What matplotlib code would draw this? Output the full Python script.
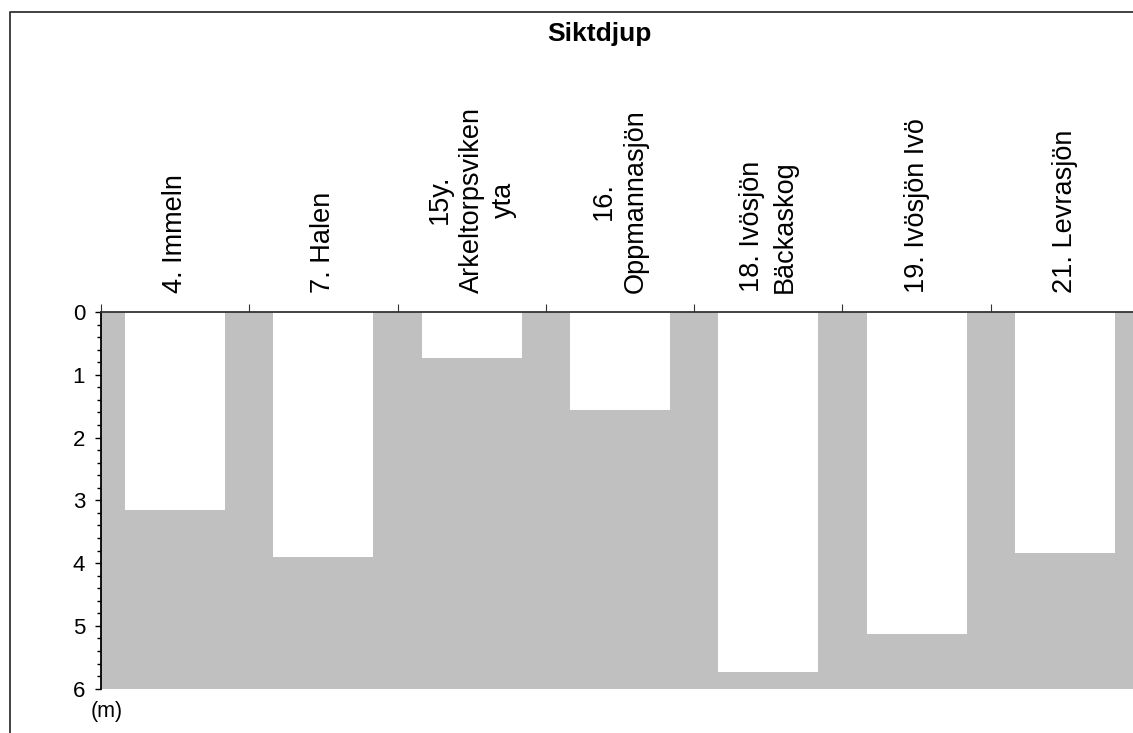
import matplotlib
matplotlib.use("Agg")
import matplotlib.pyplot as plt
from matplotlib.lines import Line2D
from matplotlib.ticker import MultipleLocator

plt.rcParams['font.family'] = ['Liberation Sans', 'DejaVu Sans']

# -------------------------------
# data (Siktdjup, m)
# -------------------------------
lakes = ["4. Immeln", "7. Halen", "15y.\nArkeltorpsviken\nyta", "16.\nOppmannasjön",
         "18. Ivösjön\nBäckaskog", "19. Ivösjön Ivö", "21. Levrasjön"]
depth = [3.15, 3.90, 0.73, 1.56, 5.73, 5.13, 3.84]
y_ticks = [0, 1, 2, 3, 4, 5, 6]

W, H = 1133, 733
fig = plt.figure(figsize=(W / 100, H / 100), dpi=100)

# axes geometry in pixels
left, right, top, bottom = 101, 1139, 312, 688.7
ax = fig.add_axes([left / W, 1 - bottom / H, (right - left) / W, (bottom - top) / H])
ax.set_facecolor("#c0c0c0")

x = [i + 0.5 for i in range(len(lakes))]
ax.bar(x, depth, width=0.674, bottom=0, color="white", edgecolor="none")

ax.set_xlim(0, len(lakes))
ax.set_ylim(6, 0)

# x axis on top, ticks at category borders
ax.xaxis.tick_top()
ax.set_xticks(range(len(lakes) + 1))
ax.set_xticklabels([])
ax.tick_params(axis="x", direction="out", length=6, width=0.8, color="#333333")

ax.set_yticks(y_ticks)
ax.yaxis.set_minor_locator(MultipleLocator(0.2))
ax.tick_params(axis="y", which="major", direction="out", length=4.5, width=1, labelsize=16, pad=7)
ax.tick_params(axis="y", which="minor", direction="out", length=3, width=1)

for s in ["right", "bottom"]:
    ax.spines[s].set_visible(False)
ax.spines["top"].set_linewidth(1.3)
ax.spines["top"].set_color("#333333")
ax.spines["left"].set_linewidth(1.3)

# category labels
for xi, name in zip(x, lakes):
    ax.annotate(name, xy=(xi, 1), xycoords=("data", "axes fraction"),
                xytext=(0, 14), textcoords="offset points",
                rotation=90, ha="center", va="bottom", multialignment="center",
                fontsize=19.5, linespacing=1.3)

fig.text(599 / W, 1 - 34 / H, "Siktdjup", fontsize=19, fontweight="bold",
         ha="center", va="center")
fig.text(107 / W, 1 - 712 / H, "(m)", fontsize=15.5, ha="center", va="center")

# outer frame (chart area border)
fx, fy = 10 / W, 1 - 12 / H
fig.add_artist(Line2D([fx, fx, 1.1], [-0.1, fy, fy], transform=fig.transFigure,
                      color="#333333", linewidth=1.3))

fig.savefig("out.png", dpi=100)
